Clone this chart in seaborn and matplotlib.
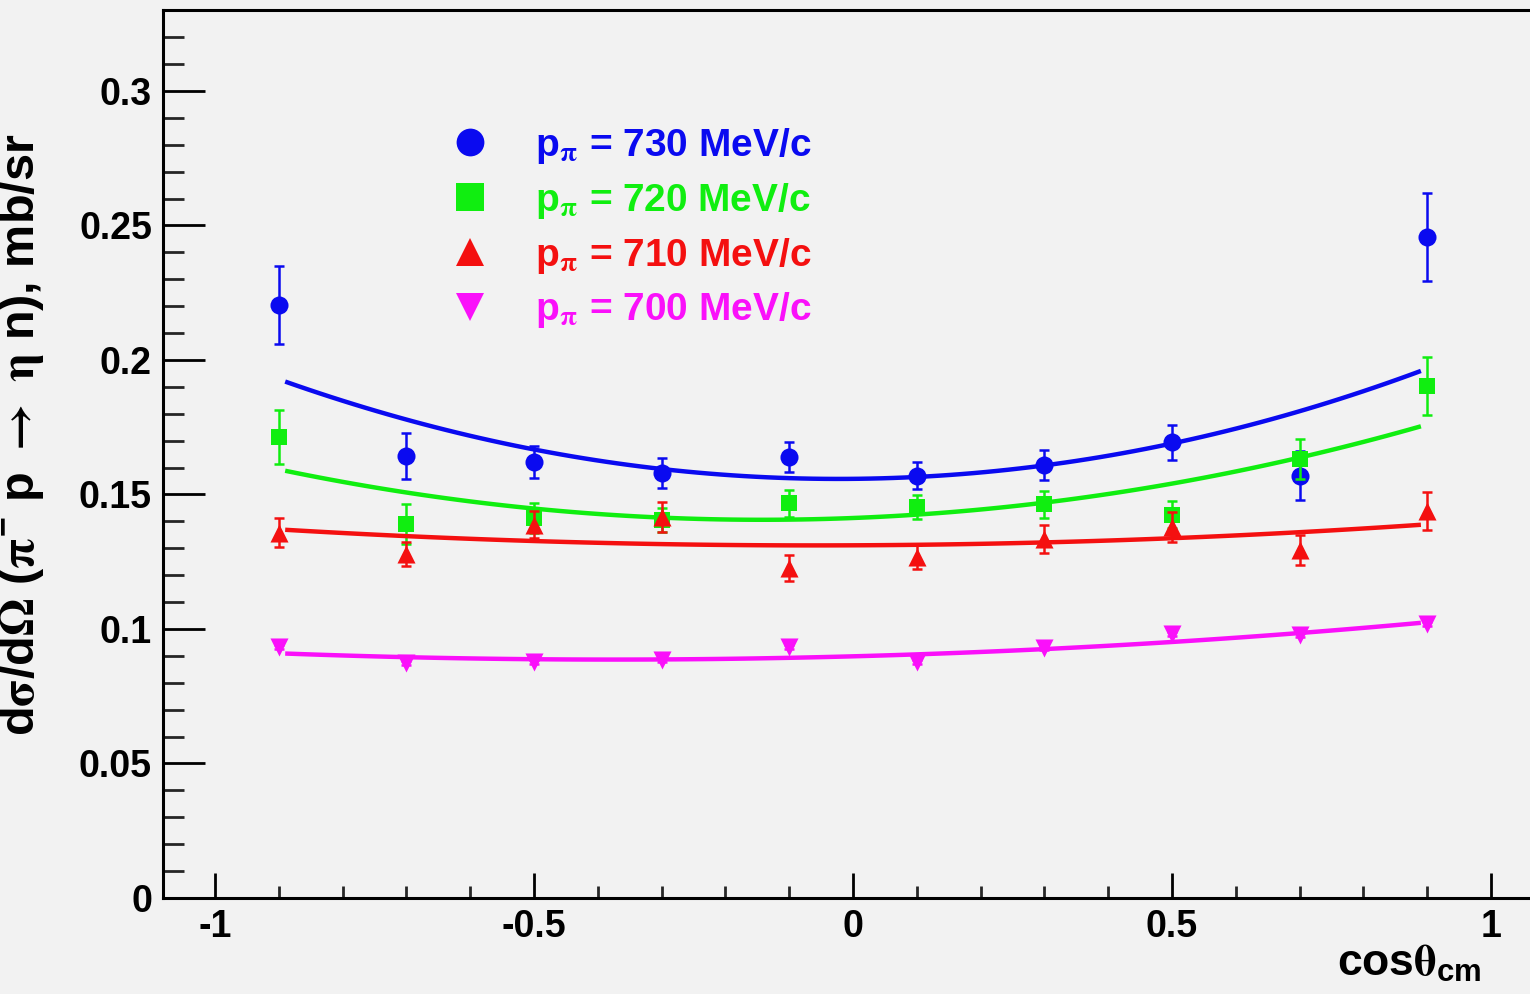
import numpy as np
import pandas as pd
import matplotlib
matplotlib.use("Agg")
import matplotlib.pyplot as plt
import seaborn as sns
from matplotlib.lines import Line2D
from matplotlib.ticker import MultipleLocator, FixedLocator, FuncFormatter

# ---------------- data ----------------
cos_theta = [-0.9, -0.7, -0.5, -0.3, -0.1, 0.1, 0.3, 0.5, 0.7, 0.9]

dsig_730 = [0.2204, 0.1643, 0.1620, 0.1580, 0.1640, 0.1570, 0.1610, 0.1695, 0.1570, 0.2457]
err_730 = [0.0145, 0.0085, 0.0060, 0.0055, 0.0055, 0.0050, 0.0055, 0.0065, 0.0090, 0.0165]
dsig_720 = [0.1714, 0.1390, 0.1413, 0.1405, 0.1468, 0.1453, 0.1464, 0.1424, 0.1632, 0.1903]
err_720 = [0.0100, 0.0075, 0.0055, 0.0045, 0.0050, 0.0045, 0.0050, 0.0050, 0.0075, 0.0107]
dsig_710 = [0.1357, 0.1280, 0.1387, 0.1416, 0.1227, 0.1268, 0.1335, 0.1380, 0.1294, 0.1439]
err_710 = [0.0054, 0.0045, 0.0050, 0.0055, 0.0047, 0.0045, 0.0052, 0.0055, 0.0055, 0.0072]
dsig_700 = [0.0933, 0.0874, 0.0877, 0.0885, 0.0933, 0.0877, 0.0930, 0.0981, 0.0978, 0.1019]
err_700 = [0.0008, 0.0008, 0.0008, 0.0008, 0.0008, 0.0008, 0.0008, 0.0008, 0.0008, 0.0008]

# fitted curves
fit_x = [-0.89, -0.7, -0.5, -0.3, -0.1, 0.1, 0.3, 0.5, 0.7, 0.89]
fit_730 = [0.1926, 0.1766, 0.1669, 0.1599, 0.1565, 0.1565, 0.1606, 0.1684, 0.1814, 0.1959]
fit_720 = [0.1591, 0.1506, 0.1446, 0.1413, 0.1405, 0.1424, 0.1472, 0.1546, 0.1636, 0.1751]
fit_710 = [0.1368, 0.1346, 0.1327, 0.1316, 0.1312, 0.1312, 0.1320, 0.1338, 0.1361, 0.1387]
fit_700 = [0.0911, 0.0892, 0.0888, 0.0888, 0.0892, 0.0903, 0.0929, 0.0952, 0.0985, 0.1022]

momenta = ["730", "720", "710", "700"]
x_ticks = [-1, -0.5, 0, 0.5, 1]
y_ticks = [0, 0.05, 0.1, 0.15, 0.2, 0.25, 0.3]

# ---------------- style ----------------
sns.set_theme(style="white")
bg = "#f2f2f2"
plt.rcParams["font.family"] = ["Liberation Sans", "DejaVu Sans"]
plt.rcParams["font.weight"] = "bold"
plt.rcParams["mathtext.fontset"] = "custom"
plt.rcParams["mathtext.rm"] = "STIXGeneral"
plt.rcParams["mathtext.it"] = "STIXGeneral:italic"
plt.rcParams["mathtext.bf"] = "Liberation Sans:bold"
plt.rcParams["mathtext.sf"] = "Liberation Sans:bold"

colors = ["#0a0af0", "#10ee10", "#f41010", "#fa10fa"]
markers = ["o", "s", "^", "v"]
msizes = [13, 12, 13, 13]

series = [
    (dsig_730, err_730, fit_730),
    (dsig_720, err_720, fit_720),
    (dsig_710, err_710, fit_710),
    (dsig_700, err_700, fit_700),
]

fig = plt.figure(figsize=(15.3, 9.94), dpi=100, facecolor=bg)
W, H = 1530, 994
ax = fig.add_axes([163 / W, 96 / H, (W - 163) / W, (898 - 10) / H])
ax.set_facecolor(bg)

for i, (vals, errs, fits) in enumerate(series):
    z = 3 + i * 3
    fit_df = pd.DataFrame({"x": fit_x, "y": fits})
    sns.regplot(data=fit_df, x="x", y="y", order=2, ci=None, scatter=False,
                truncate=True, ax=ax,
                line_kws={"color": colors[i], "lw": 3.2, "zorder": z,
                          "solid_capstyle": "butt"})
    ax.errorbar(cos_theta, vals, yerr=errs, fmt="none", ecolor=colors[i],
                elinewidth=1.8, capsize=3.6, capthick=1.8, zorder=z + 1)
    df = pd.DataFrame({"x": cos_theta, "y": vals})
    sns.scatterplot(data=df, x="x", y="y", marker=markers[i], color=colors[i],
                    s=msizes[i] ** 2, linewidth=0, ax=ax, zorder=z + 2,
                    legend=False)

# axes limits and ticks
ax.set_xlim(-1.0815, 1.061)
ax.set_ylim(0, 0.3301)
ax.xaxis.set_major_locator(FixedLocator(x_ticks))
ax.xaxis.set_minor_locator(MultipleLocator(0.1))
ax.yaxis.set_major_locator(FixedLocator(y_ticks))
ax.yaxis.set_minor_locator(MultipleLocator(0.01))
ax.xaxis.set_major_formatter(FuncFormatter(lambda v, p: f"{v:g}"))
ax.yaxis.set_major_formatter(FuncFormatter(lambda v, p: f"{v:g}"))

ax.tick_params(axis="y", which="major", direction="in", length=30, width=2.0,
               pad=8, labelsize=27, colors="black")
ax.tick_params(axis="y", which="minor", direction="in", length=15, width=2.0)
ax.tick_params(axis="x", which="major", direction="in", length=18, width=2.0,
               pad=8, labelsize=27, colors="black")
ax.tick_params(axis="x", which="minor", direction="in", length=9, width=2.0)
ax.tick_params(left=True, bottom=True, which="both")
for lab in ax.get_xticklabels() + ax.get_yticklabels():
    lab.set_fontweight("bold")

for side in ["left", "bottom", "top"]:
    ax.spines[side].set_visible(True)
    ax.spines[side].set_color("black")
    ax.spines[side].set_linewidth(2.2)
ax.spines["right"].set_visible(False)

# labels
ax.set_ylabel(r"d$\mathrm{\sigma}$/d$\mathrm{\Omega}$ ($\mathrm{\pi}^{\mathbf{-}}$ p $\mathrm{\rightarrow}$ $\mathrm{\eta}$ n), mb/sr",
              fontsize=35, fontweight="bold", color="black")
ax.yaxis.set_label_coords((46 - 163) / 1367, (898 - 435) / 888)
ax.set_xlabel(r"cos$\mathrm{\theta}_{\mathbf{cm}}$", fontsize=32,
              fontweight="bold", color="black")
ax.xaxis.label.set_ha("right")
ax.xaxis.set_label_coords((1482 - 163) / 1367, (898 - 943) / 888)

# legend
handles = [Line2D([], [], ls="none", marker=m, color=c, markersize=20,
                  markeredgewidth=0) for m, c in zip(markers, colors)]
labels = [r"p$_{\mathrm{\pi}}$ = " + p + " MeV/c" for p in momenta]
leg = ax.legend(handles, labels, loc="upper left", frameon=False,
                bbox_to_anchor=(451 / W, 1 - 126 / H),
                bbox_transform=fig.transFigure,
                prop={"family": "Liberation Sans", "weight": "bold", "size": 28},
                handlelength=1.0, handletextpad=1.15, labelspacing=0.38,
                borderpad=0, borderaxespad=0)
for t, c in zip(leg.get_texts(), colors):
    t.set_color(c)

fig.savefig("out.png", dpi=100, facecolor=bg)
